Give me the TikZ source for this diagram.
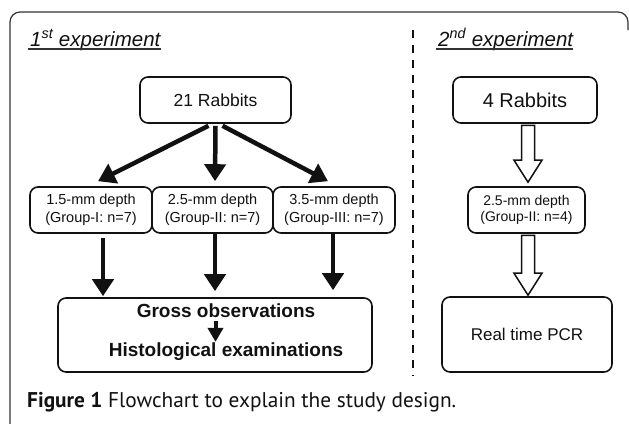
\documentclass[tikz,border=0pt]{standalone}
\usepackage{fontspec}
\setmainfont{Liberation Sans}
\newfontfamily\capfont{PT Sans}
\usetikzlibrary{arrows.meta,calc}
\definecolor{ink}{HTML}{111111}
\definecolor{framec}{HTML}{333333}
\newcommand\hollowarrow[2]{%
  \draw[hollow] let \p1=(#1), \p2=(#2) in
   (\x1-6.5pt,\y1) -- (\x1-6.5pt,\y2+22pt) -- (\x1-14pt,\y2+22pt) -- (\x1,\y2)
   -- (\x1+14pt,\y2+22pt) -- (\x1+6.5pt,\y2+22pt) -- (\x1+6.5pt,\y1) -- cycle;}
\begin{document}
\begin{tikzpicture}[x=1pt,y=-1pt,
  every node/.style={text=ink},
  box/.style={draw=ink, line width=1.6pt, rounded corners=8pt, align=center, inner sep=0pt},
  gbox/.style={box, minimum width=121pt, minimum height=46pt, font=\fontsize{14.5}{18}\selectfont},
  thickarr/.style={draw=ink, line width=4.5pt, -{Triangle[length=17pt,width=21pt]}},
  smallarr/.style={draw=ink, line width=4pt, -{Triangle[length=14pt,width=15pt]}},
  hollow/.style={draw=ink, line width=1.5pt, fill=white, line join=miter},
  title/.style={anchor=base west, inner sep=0pt, font=\fontsize{20.5}{24}\selectfont\itshape},
  uline/.style={draw=framec, line width=1.3pt},
  framel/.style={draw=framec, line width=1.2pt, rounded corners=10pt}
]
\useasboundingbox (0,0) rectangle (629,423);
\fill[white] (0,0) rectangle (629,423);
% frame
\draw[framel] (628,30) -- (628,12) -- (10,12) -- (10,430);
% titles
\node[title] (t1) at (30,46) {1\textsuperscript{st} experiment};
\draw[uline] ($(t1.base west)+(-2,3)$) -- ($(t1.base east)+(0,3)$);
\node[title] (t2) at (438,46) {2\textsuperscript{nd} experiment};
\draw[uline] ($(t2.base west)+(-2,3)$) -- ($(t2.base east)+(0,3)$);
% divider
\coordinate (dtop) at (413,30);
\coordinate (dbot) at (413,376);
\draw[draw=ink, line width=2pt, dash pattern=on 8pt off 7pt] (dtop) -- (dbot);
% first experiment
\node[box, minimum width=151pt, minimum height=46pt, font=\fontsize{17.5}{21}\selectfont] (r21) at (215.5,100) {21 Rabbits};
\node[gbox, minimum width=122pt] (g1) at (91,210) {1.5-mm depth\\(Group-I: n=7)};
\node[gbox] (g2) at (212.5,210) {2.5-mm depth\\(Group-II: n=7)};
\node[gbox, minimum width=122pt] (g3) at (334,210) {3.5-mm depth\\(Group-III: n=7)};
\node[box, minimum width=314pt, minimum height=74pt] (gross) at (215,335) {};
\node[inner sep=0pt, font=\fontsize{19}{22}\selectfont\bfseries] (go) at (226,311) {Gross observations};
\node[inner sep=0pt, font=\fontsize{19}{22}\selectfont\bfseries] (hist) at (226,352) {Histological examinations};
\draw[thickarr] ($(r21.south)+(-7,2)$) -- ($(g1.north)+(7,-5)$);
\draw[thickarr] ($(r21.south)+(0,2)$) -- ($(g2.north)+(2.5,-5)$);
\draw[thickarr] ($(r21.south)+(7,2)$) -- ($(g3.north)+(-6,-5)$);
\draw[thickarr] ($(g1.south)+(12,4)$) -- ($(g1.south |- gross.north)+(12,-1)$);
\draw[thickarr] ($(g2.south)+(2.5,0)$) -- ($(g2.south |- gross.north)+(2.5,-6)$);
\draw[thickarr] ($(g3.south)+(-1,0)$) -- ($(g3.south |- gross.north)+(-1,-7)$);
\draw[smallarr] ($(go.south -| g2.center)+(3,3)$) -- ($(hist.north -| g2.center)+(3,-1)$);
% second experiment
\node[box, minimum width=144pt, minimum height=46pt, font=\fontsize{20}{24}\selectfont] (r4) at (525,100) {4 Rabbits};
\node[box, minimum width=117pt, minimum height=46pt, font=\fontsize{14}{16.5}\selectfont] (g4) at (526.5,210) {2.5-mm depth\\(Group-II: n=4)};
\node[box, minimum width=170pt, minimum height=75pt, font=\fontsize{17}{20}\selectfont] (pcr) at (527,334.5) {Real time PCR};
\hollowarrow{$(r4.south)+(3,1.5)$}{$(g4.north)+(1.5,-4)$}
\hollowarrow{$(g4.south)+(1.5,1.5)$}{$(pcr.north)+(1,-1)$}
% caption
\node[anchor=base west, inner sep=0pt] (cap) at (27,407) {\resizebox{429pt}{!}{\capfont\fontsize{15}{18}\selectfont\textbf{Figure 1} Flowchart to explain the study design.}};
\end{tikzpicture}
\end{document}
